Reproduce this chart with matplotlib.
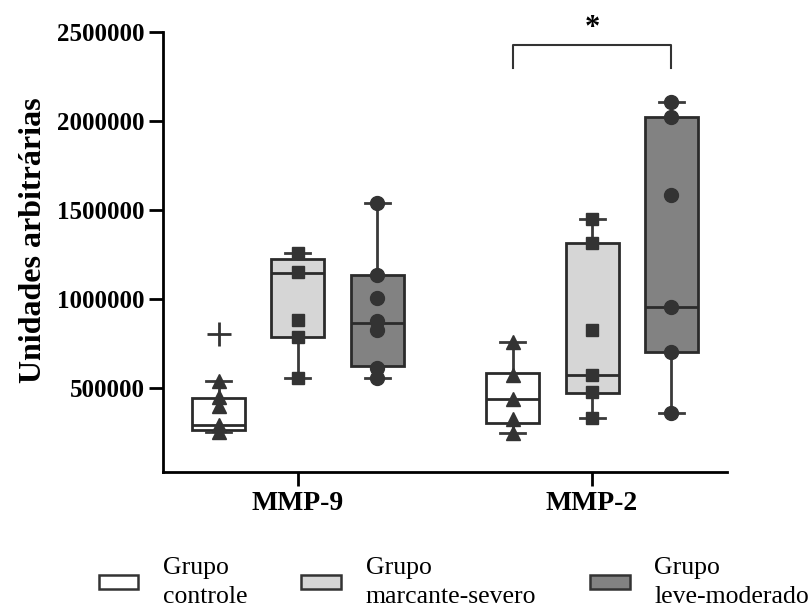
import numpy as np
import matplotlib
matplotlib.use("Agg")
import matplotlib.pyplot as plt
from matplotlib.patches import Patch

plt.rcParams['font.family'] = ['Liberation Serif', 'DejaVu Serif']

# categories and groups
markers_cat = ['MMP-9', 'MMP-2']
groups = ['Grupo\ncontrole', 'Grupo\nmarcante-severo', 'Grupo\nleve-moderado']
colors = ['#ffffff', '#d6d6d6', '#828282']
symbols = ['^', 's', 'o']
sizes = [10, 9, 10]

# box stats: (whislo, q1, med, q3, whishi)
mmp9_stats = [
    (253000, 264000, 292000, 444000, 539000),
    (556000, 786000, 1146000, 1225000, 1258000),
    (556000, 624000, 865000, 1135000, 1539000),
]
mmp2_stats = [
    (250000, 303000, 438000, 584000, 758000),
    (331000, 472000, 573000, 1315000, 1449000),
    (360000, 702000, 955000, 2022000, 2107000),
]
mmp9_outlier_controle = [803000]

# individual points
mmp9_points = [
    [539000, 449000, 399000, 292000, 253000],
    [1258000, 1152000, 882000, 787000, 556000],
    [1539000, 1135000, 1006000, 880000, 826000, 612000, 556000],
]
mmp2_points = [
    [758000, 575000, 440000, 330000, 250000],
    [1449000, 1315000, 826000, 573000, 478000, 331000],
    [2107000, 2022000, 1584000, 955000, 702000, 360000],
]

offset = 0.27
width = 0.18
capw = 0.085
edge = '#2b2b2b'
dot = '#333333'

fig = plt.figure(figsize=(8.08, 6.10), dpi=100)
ax = fig.add_axes([0.2017, 0.2262, 0.6981, 0.7213])

all_stats = [mmp9_stats, mmp2_stats]
all_points = [mmp9_points, mmp2_points]
for ci in range(2):
    for gi in range(3):
        pos = ci + (gi - 1) * offset
        wl, q1, med, q3, wh = all_stats[ci][gi]
        st = dict(whislo=wl, q1=q1, med=med, q3=q3, whishi=wh, fliers=[])
        ax.bxp([st], positions=[pos], widths=width, capwidths=capw,
               patch_artist=True, showfliers=False,
               boxprops=dict(facecolor=colors[gi], edgecolor=edge, linewidth=2),
               medianprops=dict(color=edge, linewidth=2),
               whiskerprops=dict(color='#3a3a3a', linewidth=2),
               capprops=dict(color='#3a3a3a', linewidth=2),
               zorder=2)
        pts = all_points[ci][gi]
        ax.plot([pos] * len(pts), pts, linestyle='none', marker=symbols[gi],
                ms=sizes[gi], color=dot, zorder=3)

# outlier as cross
ax.plot([0 - offset], mmp9_outlier_controle, linestyle='none', marker='+',
        ms=17, mew=2, color='#333333', zorder=3)

# significance bracket
x1, x2 = 1 - offset, 1 + offset
ytop, ydrop = 2427000, 2298000
ax.plot([x1, x1, x2, x2], [ydrop, ytop, ytop, ydrop], color='#333333', lw=1.5,
        clip_on=False)
ax.text(1.0, 2520000, '*', ha='center', va='center', fontsize=22,
        fontweight='bold', clip_on=False)

ax.set_xlim(-0.459, 1.459)
ax.set_ylim(30000, 2500000)
ax.set_yticks([500000, 1000000, 1500000, 2000000, 2500000])
ax.set_yticklabels(['500000', '1000000', '1500000', '2000000', '2500000'])
ax.set_xticks([0, 1])
ax.set_xticklabels(markers_cat)
for lab in ax.get_yticklabels():
    lab.set_fontweight('bold')
    lab.set_fontsize(18)
for lab in ax.get_xticklabels():
    lab.set_fontweight('bold')
    lab.set_fontsize(20)
ax.tick_params(axis='both', width=2, length=10, color='black')
ax.tick_params(axis='y', pad=3)
ax.tick_params(axis='x', pad=4)
ax.spines['top'].set_visible(False)
ax.spines['right'].set_visible(False)
ax.spines['left'].set_linewidth(2)
ax.spines['bottom'].set_linewidth(2)
ax.set_ylabel('Unidades arbitrárias', fontsize=23, fontweight='bold')
ax.yaxis.set_label_coords(-0.203, 0.527)

handles = [Patch(facecolor=colors[i], edgecolor='#333333', linewidth=1.8)
           for i in range(3)]
leg = fig.legend(handles, groups, loc='lower left', bbox_to_anchor=(0.103, -0.022),
                 ncol=3, frameon=False, fontsize=18.5, handlelength=1.55,
                 handleheight=0.45, handletextpad=0.95, columnspacing=2.1,
                 labelspacing=0.2, borderpad=0.1)
for t in leg.get_texts():
    t.set_linespacing(1.4)

fig.savefig('out.png', dpi=100)
